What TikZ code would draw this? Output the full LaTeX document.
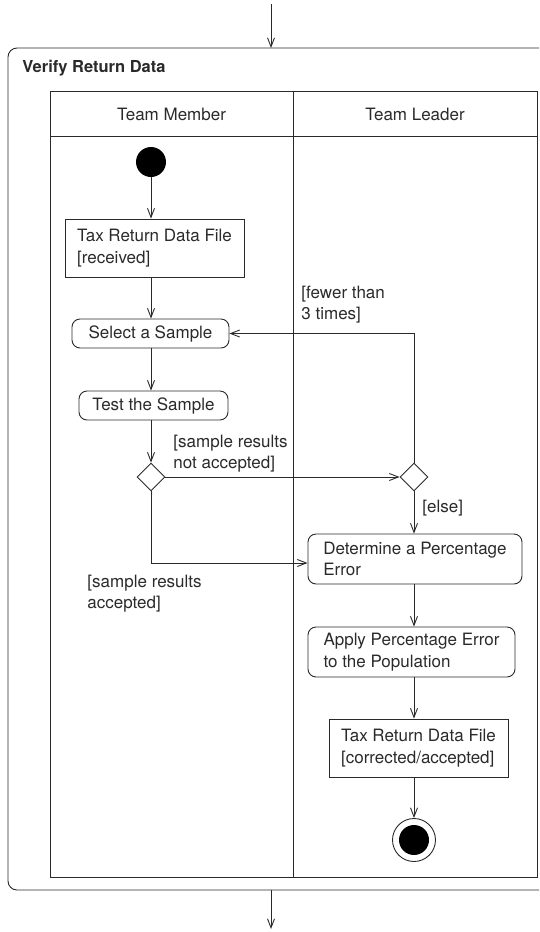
\documentclass[tikz,border=0pt]{standalone}
\usepackage{fontspec}
\setmainfont{TeX Gyre Heros}
\usetikzlibrary{arrows.meta,shapes.geometric}
\definecolor{ln}{HTML}{2A2A2A}
\begin{document}
\begin{tikzpicture}[x=1pt,y=-1pt, line width=0.9pt, color=ln,
  font=\fontsize{17}{21.5}\selectfont,
  >={Straight Barb[length=9pt,width=7pt]},
  act/.style={draw=ln, rounded corners=8pt, align=left, inner sep=0pt},
  obj/.style={draw=ln, align=left, inner sep=0pt},
  dec/.style={draw=ln, diamond, aspect=1, inner sep=0pt, minimum size=28pt},
  lbl/.style={anchor=north west, align=left, inner sep=0pt}]
\useasboundingbox (0,0) rectangle (539,932);
% frame
\draw[rounded corners=9pt] (539,48) -- (8,48) -- (8,890) -- (539,890);
\node[anchor=base west, inner sep=0pt, font=\fontsize{16.5}{20}\selectfont\bfseries] (title) at (22,72) {Verify Return Data};
% swimlanes
\draw (50,91) rectangle (537,877);
\draw (50,136) -- (537,136);
\draw (293,91) -- (293,877);
\node[anchor=base, inner sep=0pt] (tm) at (171.5,120) {Team Member};
\node[anchor=base, inner sep=0pt] (tl) at (415,120) {Team Leader};
% nodes
\node[circle, fill=black, inner sep=0pt, minimum size=30pt] (init) at (151,162) {};
\node[obj, minimum width=179pt, minimum height=58pt] (recv) at (154.5,248) {Tax Return Data File\\{}[received]};
\node[act, minimum width=157pt, minimum height=29pt] (sel) at (150.5,333.5) {Select a Sample};
\node[act, minimum width=149pt, minimum height=29pt] (test) at (153.5,405.5) {Test the Sample};
\node[dec] (d1) at (151,477) {};
\node[dec] (d2) at (414,477) {};
\node[act, minimum width=214pt, minimum height=50pt] (det) at (415,559) {Determine a Percentage\\Error};
\node[act, minimum width=207pt, minimum height=50pt] (app) at (411.5,652) {Apply Percentage Error\\to the Population};
\node[obj, minimum width=179pt, minimum height=58pt] (corr) at (418.5,748) {Tax Return Data File\\{}[corrected/accepted]};
\node[circle, draw=ln, inner sep=0pt, minimum size=43pt,
  path picture={\fill[black] (path picture bounding box.center) circle (15pt);}] (final) at (414,840) {};
% connectors
\coordinate (in) at (271,4);
\coordinate (ftop) at (271,48);
\coordinate (fbot) at (271,890);
\coordinate (out) at (271,929);
\draw[->] (in) -- (ftop);
\draw[->] (fbot) -- (out);
\draw[->] (init) -- (init |- recv.north);
\draw[->] (init |- recv.south) -- (init |- sel.north);
\draw[->] (init |- sel.south) -- (init |- test.north);
\draw[->] (init |- test.south) -- (d1.north);
\draw[->] (d1.east) -- (d2.west);
\draw[->] (d2.north) |- (sel.east);
\draw[->] (d2.south) -- (d2 |- det.north);
\draw[->] (d1.south) |- ([yshift=-4pt]det.west);
\draw[->] (d2 |- det.south) -- (d2 |- app.north);
\draw[->] (d2 |- app.south) -- (d2 |- corr.north);
\draw[->] (d2 |- corr.south) -- (final.north);
% labels
\node[lbl] (l1) at (301,285.5) {[fewer than\\3 times]};
\node[lbl] (l2) at (173,434.5) {[sample results\\not accepted]};
\node[anchor=base west, inner sep=0pt] (l3) at (422,512) {[else]};
\node[lbl] (l4) at (87,574.5) {[sample results\\accepted]};
\end{tikzpicture}
\end{document}
